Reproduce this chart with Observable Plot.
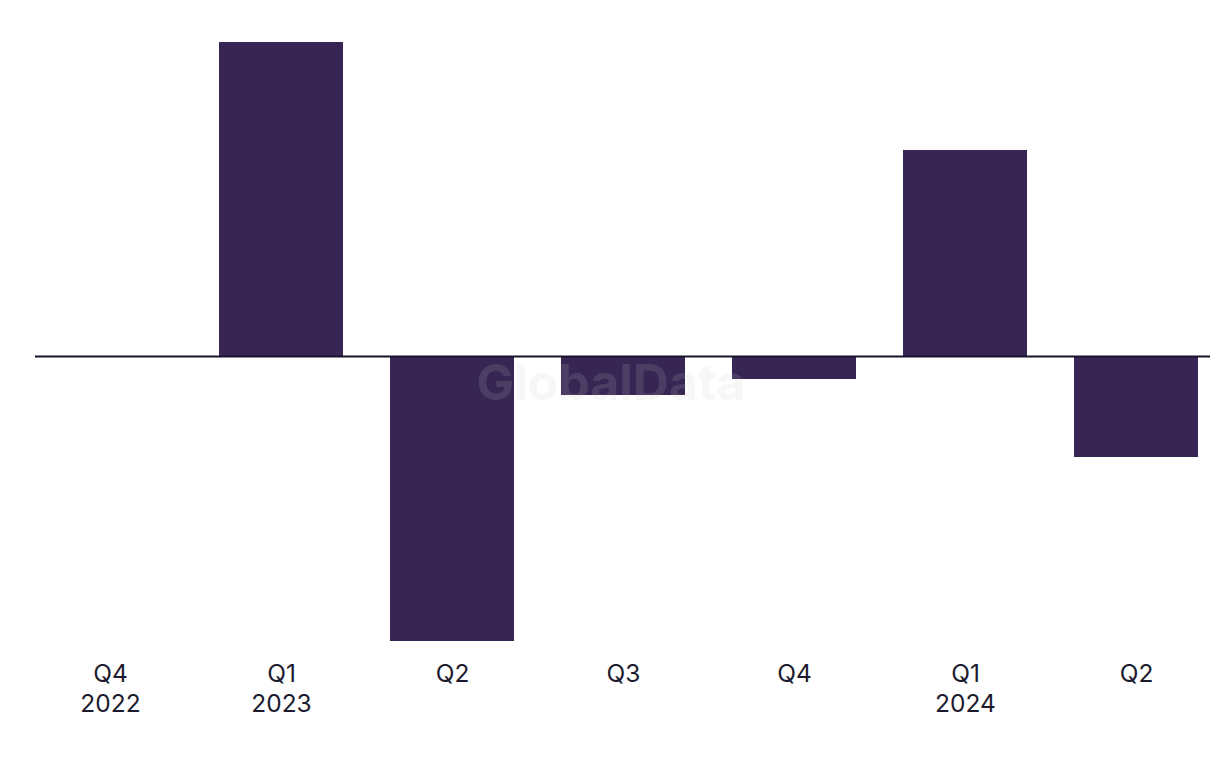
<!DOCTYPE html>
<html>
<head>
<meta charset="utf-8">
<script src="https://cdn.jsdelivr.net/npm/d3@7"></script>
<script src="https://cdn.jsdelivr.net/npm/@observablehq/plot@0.6"></script>
<style>
  html, body { margin: 0; padding: 0; background: #ffffff; }
  #chart svg { display: block; }
</style>
</head>
<body>
<div id="chart"></div>
<script>
const quarters = ["Q4 2022", "Q1 2023", "Q2 2023", "Q3 2023", "Q4 2023", "Q1 2024", "Q2 2024"];
const tickLabels = ["Q4\n2022", "Q1\n2023", "Q2", "Q3", "Q4", "Q1\n2024", "Q2"];
const values = [0, 31.4, -28.5, -3.9, -2.3, 20.6, -10.1];

const data = quarters.map((q, i) => ({quarter: q, value: values[i]}));
const labelOf = new Map(quarters.map((q, i) => [q, tickLabels[i]]));

const chart = Plot.plot({
  width: 1220,
  height: 768,
  marginTop: 42,
  marginBottom: 118,
  marginLeft: 35,
  marginRight: 10,
  style: {background: "#ffffff", fontFamily: "Inter, 'Liberation Sans', sans-serif", color: "#1b1a2e"},
  x: {domain: quarters, paddingInner: 0.277, paddingOuter: 0.07},
  y: {domain: [-29.4, 31.4], axis: null},
  marks: [
    Plot.barY(data, {x: "quarter", y: "value", fill: "#372554"}),
    Plot.ruleY([0], {stroke: "#16142a", strokeWidth: 2}),
    Plot.text(["GlobalData"], {
      frameAnchor: "middle", dx: -12, dy: 37,
      fontSize: 50, fontWeight: "bold", fill: "#cccccc", fillOpacity: 0.15,
      text: d => d
    }),
    Plot.axisX({
      tickSize: 0, tickPadding: 10, fontSize: 24.5, lineHeight: 1.22,
      fill: "#1b1a2e", label: null,
      tickFormat: d => labelOf.get(d)
    })
  ]
});
document.getElementById("chart").append(chart);
</script>
</body>
</html>
